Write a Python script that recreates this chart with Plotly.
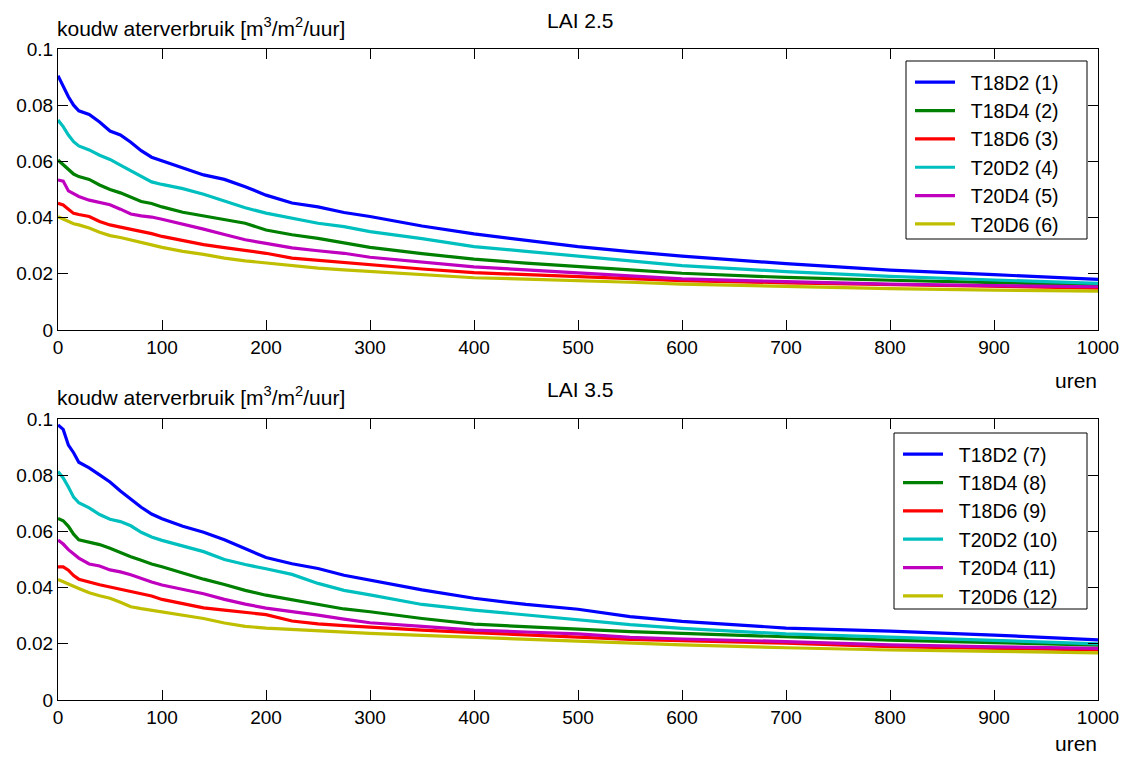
import plotly.graph_objects as go

uren = [0, 5, 10, 15, 20, 30, 40, 50, 60, 70, 80, 90, 100, 120, 140, 160, 180, 200,
        225, 250, 275, 300, 350, 400, 450, 500, 550, 600, 700, 800, 900, 1000]

# LAI 2.5
t18d2_1 = [.0905, .0865, .0830, .0800, .0780, .0767, .0740, .0708, .0694, .0668, .0638, .0615, .0602, .0578, .0552, .0536, .0510, .0480,
           .0452, .0438, .0418, .0404, .0370, .0342, .0320, .0297, .0279, .0263, .0236, .0213, .0197, .0180]
t18d4_2 = [.0605, .0588, .0570, .0555, .0546, .0536, .0516, .0500, .0488, .0473, .0457, .0450, .0438, .0419, .0406, .0392, .0380, .0356,
           .0339, .0326, .0309, .0294, .0272, .0252, .0238, .0225, .0214, .0202, .0187, .0177, .0168, .0160]
t18d6_3 = [.0451, .0445, .0430, .0415, .0411, .0404, .0386, .0374, .0366, .0359, .0350, .0343, .0333, .0318, .0304, .0293, .0282, .0273,
           .0256, .0248, .0239, .0231, .0217, .0204, .0197, .0190, .0181, .0176, .0168, .0161, .0155, .0149]
t20d2_4 = [.0747, .0724, .0694, .0670, .0655, .0641, .0622, .0607, .0587, .0567, .0545, .0527, .0518, .0503, .0483, .0460, .0435, .0416,
           .0398, .0380, .0368, .0350, .0325, .0297, .0280, .0263, .0247, .0229, .0208, .0191, .0178, .0166]
t20d4_5 = [.0534, .0530, .0495, .0485, .0475, .0462, .0453, .0446, .0430, .0413, .0406, .0402, .0394, .0377, .0359, .0340, .0321, .0308,
           .0292, .0282, .0273, .0259, .0241, .0225, .0214, .0204, .0192, .0182, .0172, .0163, .0158, .0154]
t20d6_6 = [.0403, .0395, .0385, .0378, .0374, .0363, .0348, .0336, .0329, .0321, .0313, .0303, .0294, .0280, .0269, .0256, .0246, .0238,
           .0228, .0220, .0214, .0208, .0197, .0186, .0181, .0176, .0170, .0163, .0154, .0147, .0142, .0138]

# LAI 3.5
t18d2_7 = [.0979, .0963, .0907, .0880, .0846, .0826, .0801, .0776, .0744, .0716, .0686, .0662, .0645, .0618, .0597, .0570, .0540, .0507,
           .0485, .0468, .0444, .0427, .0392, .0362, .0340, .0323, .0297, .0280, .0256, .0245, .0231, .0214]
t18d4_8 = [.0646, .0638, .0618, .0590, .0570, .0561, .0553, .0540, .0524, .0510, .0497, .0484, .0474, .0451, .0430, .0411, .0390, .0373,
           .0357, .0340, .0324, .0314, .0290, .0270, .0260, .0252, .0243, .0237, .0223, .0213, .0204, .0195]
t18d6_9 = [.0474, .0474, .0462, .0443, .0430, .0419, .0410, .0402, .0394, .0387, .0379, .0370, .0358, .0342, .0328, .0320, .0312, .0304,
           .0281, .0271, .0265, .0259, .0249, .0240, .0232, .0225, .0216, .0211, .0202, .0190, .0184, .0178]
t20d2_10 = [.0813, .0790, .0758, .0722, .0702, .0684, .0660, .0643, .0635, .0620, .0597, .0580, .0568, .0549, .0528, .0500, .0482, .0467,
            .0447, .0415, .0390, .0374, .0340, .0320, .0303, .0285, .0268, .0255, .0235, .0224, .0212, .0200]
t20d4_11 = [.0569, .0555, .0535, .0521, .0505, .0484, .0477, .0463, .0456, .0446, .0432, .0420, .0409, .0394, .0378, .0358, .0341, .0327,
            .0315, .0302, .0288, .0275, .0262, .0249, .0242, .0235, .0223, .0217, .0208, .0196, .0189, .0184]
t20d6_12 = [.0429, .0422, .0415, .0405, .0397, .0382, .0371, .0362, .0348, .0332, .0325, .0319, .0314, .0302, .0290, .0274, .0262, .0256,
            .0251, .0248, .0243, .0237, .0230, .0223, .0217, .0211, .0202, .0196, .0186, .0178, .0173, .0168]

names_top = ["T18D2 (1)", "T18D4 (2)", "T18D6 (3)", "T20D2 (4)", "T20D4 (5)", "T20D6 (6)"]
names_bot = ["T18D2 (7)", "T18D4 (8)", "T18D6 (9)", "T20D2 (10)", "T20D4 (11)", "T20D6 (12)"]
series_top = [t18d2_1, t18d4_2, t18d6_3, t20d2_4, t20d4_5, t20d6_6]
series_bot = [t18d2_7, t18d4_8, t18d6_9, t20d2_10, t20d4_11, t20d6_12]
colors = ["#0000FF", "#008000", "#FF0000", "#00BFBF", "#BF00BF", "#BFBF00"]

x_ticks = [0, 100, 200, 300, 400, 500, 600, 700, 800, 900, 1000]
y_ticks = [0, 0.02, 0.04, 0.06, 0.08, 0.1]
y_tick_text = ["0", "0.02", "0.04", "0.06", "0.08", "0.1"]

FONT = "Liberation Sans, Arial, sans-serif"
W, H = 1126, 758
NB = "\u00a0\u00a0"


def px(X):
    return X / W


def py(Y):
    return 1 - Y / H


fig = go.Figure()
for i, (nm, ys) in enumerate(zip(names_top, series_top)):
    fig.add_trace(go.Scatter(x=uren, y=ys, name=NB + nm, mode="lines",
                             line=dict(color=colors[i], width=3.2),
                             xaxis="x", yaxis="y", legend="legend"))
for i, (nm, ys) in enumerate(zip(names_bot, series_bot)):
    fig.add_trace(go.Scatter(x=uren, y=ys, name=NB + nm, mode="lines",
                             line=dict(color=colors[i], width=3.2),
                             xaxis="x2", yaxis="y2", legend="legend2"))

xdom = [px(58), px(1098)]
top_dom = [py(330), py(49)]
bot_dom = [py(700), py(419)]


def xax(anchor):
    return dict(domain=xdom, range=[0, 1000], anchor=anchor, automargin=False,
                tickvals=x_ticks, ticks="inside", ticklen=10, tickcolor="#000",
                showline=True, linecolor="#000", linewidth=1, mirror="ticks",
                showgrid=False, zeroline=False, ticklabeloverflow="allow",
                tickfont=dict(family=FONT, size=19, color="#000"))


def yax(anchor, dom):
    return dict(domain=dom, range=[0, 0.1], anchor=anchor, automargin=False,
                tickvals=y_ticks, ticktext=y_tick_text, ticks="inside", ticklen=10,
                tickcolor="#000", showline=True, linecolor="#000", linewidth=1,
                mirror="ticks", showgrid=False, zeroline=False, ticklabeloverflow="allow",
                tickfont=dict(family=FONT, size=19, color="#000"))


leg_common = dict(bgcolor="rgba(0,0,0,0)", borderwidth=0,
                  font=dict(family=FONT, size=19.5, color="#000"),
                  xanchor="left", yanchor="top", itemwidth=40)

# legend frames
for (lx0, ly0, lx1, ly1) in [(906, 61, 1087, 239), (894, 433, 1087, 609)]:
    fig.add_shape(type="rect", xref="paper", yref="paper",
                  x0=px(lx0), x1=px(lx1), y0=py(ly1), y1=py(ly0),
                  line=dict(color="#000", width=1), fillcolor="#fff", layer="above")

fig.update_layout(
    width=W, height=H,
    template="none",
    margin=dict(l=0, r=0, t=0, b=0, autoexpand=False),
    paper_bgcolor="#fff", plot_bgcolor="#fff",
    xaxis=xax("y"), yaxis=yax("x", top_dom),
    xaxis2=xax("y2"), yaxis2=yax("x2", bot_dom),
    legend=dict(x=px(910), y=py(63), **leg_common),
    legend2=dict(x=px(898), y=py(435), **leg_common),
    showlegend=True,
)

ann_font = dict(family=FONT, size=21, color="#000")
ylabel = "koudw aterverbruik [m<sup>3</sup>/m<sup>2</sup>/uur]"
for ycen, title in [(27, "LAI 2.5"), (396, "LAI 3.5")]:
    fig.add_annotation(x=px(55), y=py(ycen), xref="paper", yref="paper",
                       text=ylabel, showarrow=False, xanchor="left", yanchor="middle",
                       font=ann_font)
    fig.add_annotation(x=px(580), y=py(ycen - 7), xref="paper", yref="paper",
                       text=title, showarrow=False, xanchor="center", yanchor="middle",
                       font=ann_font)
fig.add_annotation(x=px(1099), y=py(380), xref="paper", yref="paper",
                   text="uren", showarrow=False, xanchor="right", yanchor="middle",
                   font=ann_font)
fig.add_annotation(x=px(1099), y=py(757), xref="paper", yref="paper",
                   text="uren", showarrow=False, xanchor="right", yanchor="bottom",
                   font=ann_font)

fig.write_html("out.html", config={"displayModeBar": False},
               post_script="document.body.style.margin='0px';")
